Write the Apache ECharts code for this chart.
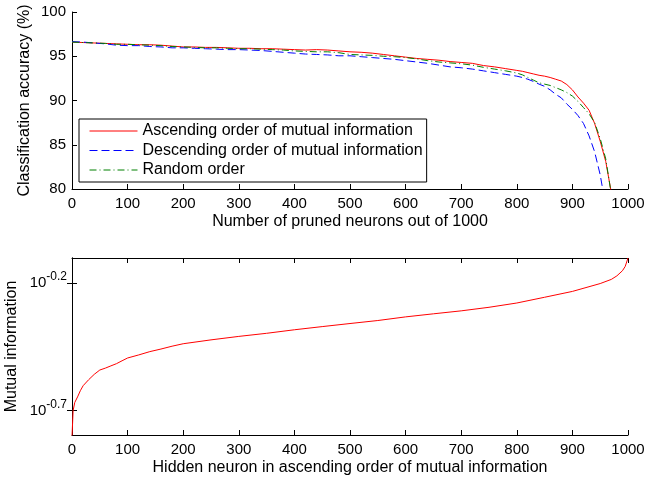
<!DOCTYPE html>
<html>
<head>
<meta charset="utf-8">
<script src="https://cdn.jsdelivr.net/npm/echarts@6/dist/echarts.min.js"></script>
<style>
  html, body { margin: 0; padding: 0; background: #fff; }
  #chart { width: 646px; height: 481px; }
</style>
</head>
<body>
<div id="chart"></div>
<script>
// pruned neurons (x) for the upper plot
var pruned = [0, 20, 40, 60, 80, 100, 120, 140, 160, 180, 200, 220, 240, 260, 280, 300,
  320, 340, 360, 380, 400, 420, 440, 460, 480, 500, 520, 540, 560, 580, 600, 620, 640,
  660, 680, 700, 720, 740, 760, 780, 800, 810, 820, 830, 840, 850, 860, 870, 880, 890,
  900, 910, 920, 930, 940, 950, 960, 970, 980];

// classification accuracy (%)
var ascAcc = [96.6, 96.55, 96.5, 96.45, 96.4, 96.35, 96.3, 96.3, 96.25, 96.15, 96.05, 96.05,
  96.0, 96.0, 95.95, 95.9, 95.9, 95.85, 95.85, 95.8, 95.75, 95.7, 95.75, 95.7, 95.6, 95.5,
  95.45, 95.35, 95.2, 95.05, 94.9, 94.75, 94.65, 94.55, 94.4, 94.3, 94.2, 93.95, 93.8, 93.6,
  93.4, 93.3, 93.15, 93.0, 92.85, 92.75, 92.6, 92.4, 92.2, 91.8, 91.2, 90.4, 89.7, 88.9,
  87.4, 85.4, 83.1, 79.6, 76.0];
var descAcc = [96.65, 96.6, 96.5, 96.4, 96.25, 96.2, 96.2, 96.1, 96.05, 95.95, 95.95, 95.9,
  95.85, 95.8, 95.75, 95.75, 95.7, 95.65, 95.55, 95.45, 95.35, 95.25, 95.2, 95.15, 95.05,
  95.05, 94.95, 94.85, 94.75, 94.65, 94.5, 94.35, 94.2, 94.0, 93.8, 93.7, 93.55, 93.35,
  93.15, 92.95, 92.75, 92.6, 92.4, 92.15, 91.85, 91.6, 91.2, 90.7, 90.3, 89.6, 89.0, 88.3,
  87.4, 86.0, 84.2, 81.6, 78.0, 74.0, 70.0];
var randAcc = [96.6, 96.55, 96.5, 96.45, 96.35, 96.35, 96.3, 96.25, 96.2, 96.1, 96.05, 96.0,
  95.95, 95.95, 95.9, 95.85, 95.85, 95.8, 95.75, 95.7, 95.6, 95.55, 95.5, 95.5, 95.4, 95.2,
  95.15, 95.1, 95.0, 94.95, 94.85, 94.7, 94.5, 94.35, 94.25, 94.15, 94.0, 93.75, 93.55,
  93.35, 93.1, 92.9, 92.6, 92.3, 92.0, 91.85, 91.7, 91.45, 91.2, 90.9, 90.5, 89.9, 89.2,
  88.5, 87.5, 85.7, 83.4, 79.4, 75.0];

// hidden neurons (x) for the lower plot and their mutual information
var neuron = [0, 2, 5, 10, 15, 20, 30, 40, 50, 60, 70, 80, 90, 100, 120, 140, 160, 180, 200,
  250, 300, 350, 400, 450, 500, 550, 600, 650, 700, 750, 800, 850, 900, 950, 970, 980, 990,
  995, 1000];
var mutualInfo = [0.158, 0.200, 0.215, 0.226, 0.239, 0.250, 0.264, 0.277, 0.288, 0.293,
  0.299, 0.305, 0.313, 0.321, 0.330, 0.340, 0.348, 0.357, 0.365, 0.378, 0.390, 0.401, 0.414,
  0.426, 0.438, 0.450, 0.465, 0.478, 0.491, 0.507, 0.527, 0.555, 0.585, 0.628, 0.652, 0.673,
  0.705, 0.733, 0.791];

// exponents of the log-axis ticks (10^-0.7, 10^-0.2)
var logTicks = [-0.7, -0.2];

var legendNames = ['Ascending order of mutual information',
  'Descending order of mutual information', 'Random order'];

function pairs(xs, ys) {
  var out = [];
  for (var i = 0; i < xs.length; i++) out.push([xs[i], ys[i]]);
  return out;
}
var miLog = [];
for (var i = 0; i < neuron.length; i++) miLog.push([neuron[i], Math.log10(mutualInfo[i])]);

var font = 'Liberation Sans, Arial, Helvetica, sans-serif';
var lineBlack = { show: true, lineStyle: { color: '#000', width: 1 } };
var tickIn = { show: true, inside: true, length: 5, lineStyle: { color: '#000', width: 1 } };
var nameTxt = { color: '#000', fontSize: 16, fontFamily: font };
var tickTxt = { color: '#000', fontSize: 15, fontFamily: font };
var plainNum = function (v) { return String(v); };

var chart = echarts.init(document.getElementById('chart'));
var option = {
  animation: false,
  backgroundColor: '#fff',
  textStyle: { fontFamily: font },
  grid: [
    { left: 72, top: 12, width: 556, height: 177, outerBoundsMode: 'none' },
    { left: 72, top: 258, width: 556, height: 177, outerBoundsMode: 'none' }
  ],
  legend: {
    data: legendNames,
    orient: 'vertical',
    left: 79, top: 119,
    itemWidth: 48, itemHeight: 16, itemGap: 3.5, itemTextGap: 6,
    padding: [4, 4, 4, 10],
    itemStyle: { opacity: 0 },
    lineStyle: { width: 1 },
    borderColor: '#000', borderWidth: 1, backgroundColor: '#fff',
    textStyle: { color: '#000', fontSize: 16, fontFamily: font }
  },
  xAxis: [
    {
      gridIndex: 0, type: 'value', min: 0, max: 1000, interval: 100,
      name: 'Number of pruned neurons out of 1000', nameLocation: 'middle', nameGap: 25,
      nameTextStyle: nameTxt,
      axisLine: lineBlack, axisTick: tickIn, splitLine: { show: false },
      axisLabel: Object.assign({ margin: 7, formatter: plainNum }, tickTxt)
    },
    {
      gridIndex: 1, type: 'value', min: 0, max: 1000, interval: 100,
      name: 'Hidden neuron in ascending order of mutual information', nameLocation: 'middle', nameGap: 25,
      nameTextStyle: nameTxt,
      axisLine: lineBlack, axisTick: tickIn, splitLine: { show: false },
      axisLabel: Object.assign({ margin: 7, formatter: plainNum }, tickTxt)
    },
    {
      gridIndex: 1, type: 'value', position: 'top', min: 0, max: 1000, interval: 100,
      axisLine: lineBlack, axisTick: tickIn, splitLine: { show: false },
      axisLabel: { show: false }
    }
  ],
  yAxis: [
    {
      gridIndex: 0, type: 'value', min: 80, max: 100, interval: 5,
      name: 'Classification accuracy (%)', nameLocation: 'middle', nameGap: 39,
      nameMoveOverlap: false,
      nameTextStyle: nameTxt,
      axisLine: lineBlack, axisTick: tickIn, splitLine: { show: false },
      axisLabel: Object.assign({ margin: 6 }, tickTxt)
    },
    {
      gridIndex: 1, type: 'value', min: -0.795, max: -0.102,
      name: 'Mutual information', nameLocation: 'middle', nameGap: 52,
      nameMoveOverlap: false,
      nameTextStyle: nameTxt,
      axisLine: lineBlack, splitLine: { show: false },
      axisTick: Object.assign({ customValues: logTicks }, tickIn),
      axisLabel: {
        customValues: logTicks, margin: 5, padding: [0, 0, 5, 0],
        formatter: function (v) { return '{b|10}{s|' + (Math.round(v * 10) / 10).toFixed(1) + '}'; },
        rich: {
          b: { fontSize: 15, color: '#000', fontFamily: font, verticalAlign: 'bottom', padding: [5, 0, 0, 0] },
          s: { fontSize: 12, color: '#000', fontFamily: font, verticalAlign: 'top' }
        }
      }
    },
    {
      gridIndex: 1, type: 'value', position: 'right', min: -0.795, max: -0.102,
      axisLine: lineBlack, splitLine: { show: false },
      axisTick: Object.assign({ customValues: logTicks }, tickIn),
      axisLabel: { show: false }
    }
  ],
  series: [
    {
      name: legendNames[0], type: 'line', xAxisIndex: 0, yAxisIndex: 0,
      symbol: 'none', clip: true,
      lineStyle: { color: '#ff0000', width: 1 }, itemStyle: { color: '#ff0000' },
      data: pairs(pruned, ascAcc)
    },
    {
      name: legendNames[1], type: 'line', xAxisIndex: 0, yAxisIndex: 0,
      symbol: 'none', clip: true,
      lineStyle: { color: '#0000ff', width: 1, type: [8, 4] }, itemStyle: { color: '#0000ff' },
      data: pairs(pruned, descAcc)
    },
    {
      name: legendNames[2], type: 'line', xAxisIndex: 0, yAxisIndex: 0,
      symbol: 'none', clip: true,
      lineStyle: { color: '#008000', width: 1, type: [7, 3, 1, 3] }, itemStyle: { color: '#008000' },
      data: pairs(pruned, randAcc)
    },
    {
      name: 'Mutual information', type: 'line', xAxisIndex: 1, yAxisIndex: 1,
      symbol: 'none', clip: true,
      lineStyle: { color: '#ff0000', width: 1 },
      data: miLog
    }
  ]
};
chart.setOption(option);
</script>
</body>
</html>
